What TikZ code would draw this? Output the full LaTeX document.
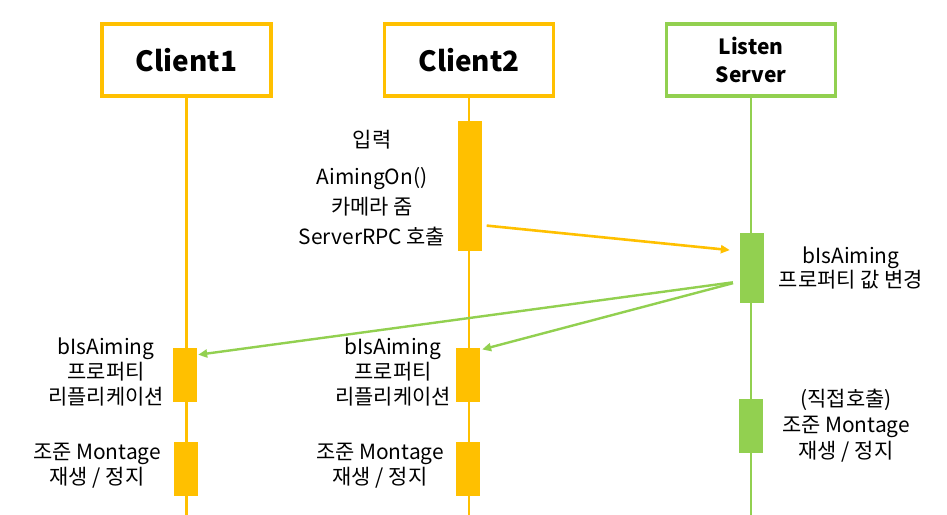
\documentclass[tikz,border=0pt]{standalone}
\usepackage{fontspec}
\setmainfont{Noto Sans CJK KR}
\usepackage{xcolor}
\usetikzlibrary{arrows.meta,positioning,calc}
\definecolor{gold}{HTML}{FFC000}
\definecolor{lime}{HTML}{92D050}

\begin{document}
\begin{tikzpicture}[
  x=1bp, y=-1bp,
  every node/.style={inner sep=0pt},
  head/.style={draw=#1, line width=3.5bp, fill=white, minimum width=169bp,
               minimum height=72bp, align=center},
  life/.style={draw=#1, line width=2.7bp},
  act/.style ={fill=#1, minimum width=24bp},
  txt/.style ={font=\fontsize{21}{25}\selectfont, align=center},
  msg/.style ={draw=#1, line width=2.6bp, -{Triangle[length=9bp,width=8bp]}}]

\useasboundingbox (0,0) rectangle (947,515);

% ----------------------------- headers --------------------------------
\node[head=gold, font=\fontsize{28}{30}\selectfont\bfseries] (c1) at (186.5,60) {Client1};
\node[head=gold, font=\fontsize{28}{30}\selectfont\bfseries] (c2) at (469,60) {Client2};
\node[head=lime, font=\fontsize{21}{28}\selectfont\bfseries] (sv) at (751,60) {Listen\\Server};

% ---------------------------- lifelines -------------------------------
\coordinate (c1end) at (186.5,515);
\coordinate (c2end) at (469,515);
\coordinate (svend) at (751,515);
\draw[life=gold] (c1.south) -- (c1end);
\draw[life=gold] (c2.south) -- (c2end);
\draw[life=lime] (sv.south) -- (svend);

% --------------------------- activations ------------------------------
\node[act=gold, minimum height=130bp] (c2in) at (469.5,186) {};
\node[act=lime, minimum height=70bp]  (sv1)  at (752,268) {};
\node[act=gold, minimum height=54bp]  (c1a)  at (185,375) {};
\node[act=gold, minimum height=54bp]  (c1b)  at (186,469) {};
\node[act=gold, minimum height=54bp]  (c2a)  at (468,375) {};
\node[act=gold, minimum height=54bp]  (c2b)  at (468,469) {};
\node[act=lime, minimum height=54bp]  (sv2)  at (751,426) {};

% ------------------------------ labels --------------------------------
\node[txt, font=\fontsize{21}{30}\selectfont] (inlbl) at (372,188)
  {입력\\[8bp] AimingOn()\\카메라 줌\\ServerRPC 호출};
\node[txt] (svlbl)  at (851,268) {bIsAiming\\프로퍼티 값 변경};
\node[txt] (c1lbl)  at (106,372) {bIsAiming\\프로퍼티\\리플리케이션};
\node[txt] (c2lbl)  at (393,372) {bIsAiming\\프로퍼티\\리플리케이션};
\node[txt] (c1mon)  at (97,466)  {조준 Montage\\재생 / 정지};
\node[txt] (c2mon)  at (380,466) {조준 Montage\\재생 / 정지};
\node[txt, font=\fontsize{21}{26}\selectfont] (svmon) at (846,426)
  {(직접호출)\\조준 Montage\\재생 / 정지};

% ----------------------------- messages -------------------------------
\draw[msg=gold, shorten <=5bp, shorten >=10bp]
  ($(c2in.north east)!.8!(c2in.south east)$) -- ($(sv1.north west)!.26!(sv1.south west)$);
\draw[msg=lime, line width=2.4bp, shorten <=7bp, shorten >=1bp]
  ($(sv1.north west)!.69!(sv1.south west)$) -- ($(c1a.north east)!.13!(c1a.south east)$);
\draw[msg=lime, line width=2.4bp, shorten <=7bp, shorten >=2bp]
  ($(sv1.north west)!.69!(sv1.south west)$) -- ($(c2a.north east)!.04!(c2a.south east)$);

\end{tikzpicture}
\end{document}
